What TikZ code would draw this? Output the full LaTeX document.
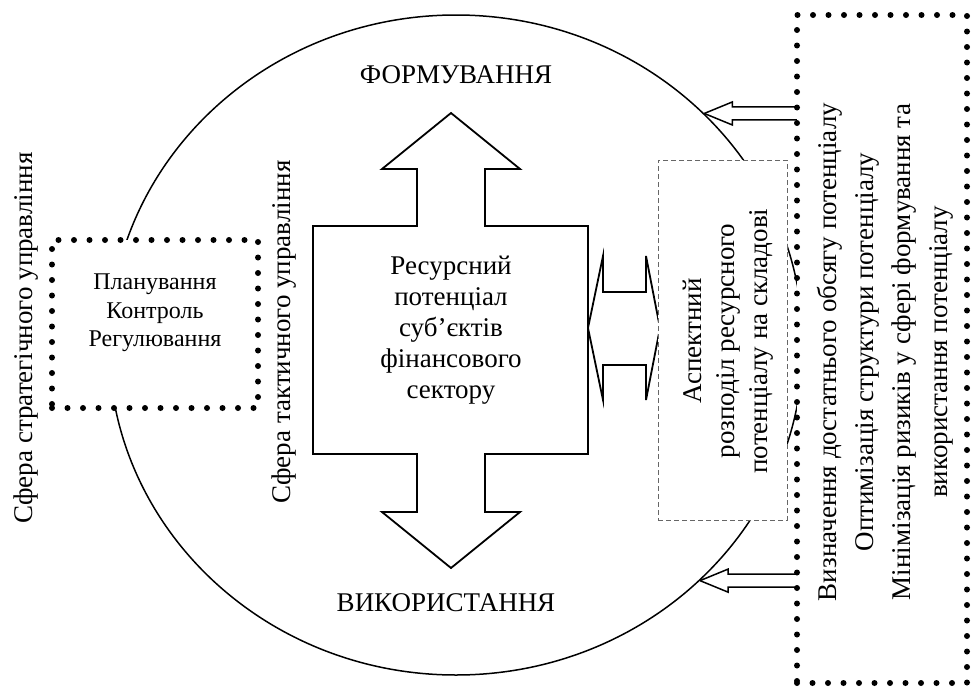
\documentclass[tikz,border=0pt]{standalone}
\usepackage{fontspec}
\setmainfont{Liberation Serif}
\usetikzlibrary{shapes.geometric}

\begin{document}
\begin{tikzpicture}[x=1pt,y=-1pt,line width=1.5pt,
  big/.style={font=\fontsize{27}{31}\selectfont},
  mid/.style={font=\fontsize{24}{28.5}\selectfont},
  dotbox/.style={draw,fill=white,line width=6pt,line cap=round,dash pattern=on 0pt off 15.5pt},
  dashbox/.style={draw=black!60,fill=white,line width=0.9pt,dash pattern=on 5pt off 3pt}]
\useasboundingbox (0,0) rectangle (972,688);
\node[draw,ellipse,minimum width=694,minimum height=660,inner sep=0] (sphere) at (456,345) {};
\node[big] (form) at (456,75) {ФОРМУВАННЯ};
\node[big] (use) at (446,603) {ВИКОРИСТАННЯ};
\draw[line width=1.8pt] (313,226) -- (417,226) -- (417,169) -- (382,169) -- (451,113) -- (520,169) -- (485,169) -- (485,226)
  -- (588,226) -- (588,454) -- (485,454) -- (485,512) -- (520,512) -- (451,568) -- (382,512) -- (417,512) -- (417,454)
  -- (313,454) -- cycle;
\node[big,align=center] (core) at (451,330) {Ресурсний\\потенціал\\суб’єктів\\фінансового\\сектору};
\draw[line width=1.8pt] (588,328) -- (603,256) -- (603,292) -- (646,292) -- (646,256) -- (660,328) -- (646,400) -- (646,365)
  -- (603,365) -- (603,400) -- cycle;
\node[dashbox,minimum width=129,minimum height=360] (split) at (722.5,340) {};
\node[rotate=90,align=center,font=\fontsize{27}{33}\selectfont] (splittext) at (728,341)
  {Аспектний\\розподіл ресурсного\\потенціалу на складові};
\draw (sphere.43) -- ++(28,-11.5) -- ++(0,5) -- ++(70,0);
\draw (sphere.43) -- ++(28,11.5) -- ++(0,-5) -- ++(70,0);
\draw (sphere.-44.5) -- ++(28,-11.5) -- ++(0,5) -- ++(75,0);
\draw (sphere.-44.5) -- ++(28,11.5) -- ++(0,-5) -- ++(75,0);
\node[dotbox,minimum width=170,minimum height=668] (goals) at (882,349) {};
\node[rotate=90,align=center,font=\fontsize{27}{37}\selectfont] (goalstext) at (885,352)
  {Визначення достатнього обсягу потенціалу\\Оптимізація структури потенціалу\\Мінімізація ризиків у сфері формування та\\використання потенціалу};
\node[dotbox,minimum width=206,minimum height=168] (ctrl) at (155,324) {};
\node[mid,align=center] (ctrltext) at (155,313) {Планування\\Контроль\\Регулювання};
\node[big,rotate=90] (strat) at (26,338) {Сфера стратегічного управління};
\node[big,rotate=90] (tact) at (284,332) {Сфера тактичного управління};
\end{tikzpicture}
\end{document}
